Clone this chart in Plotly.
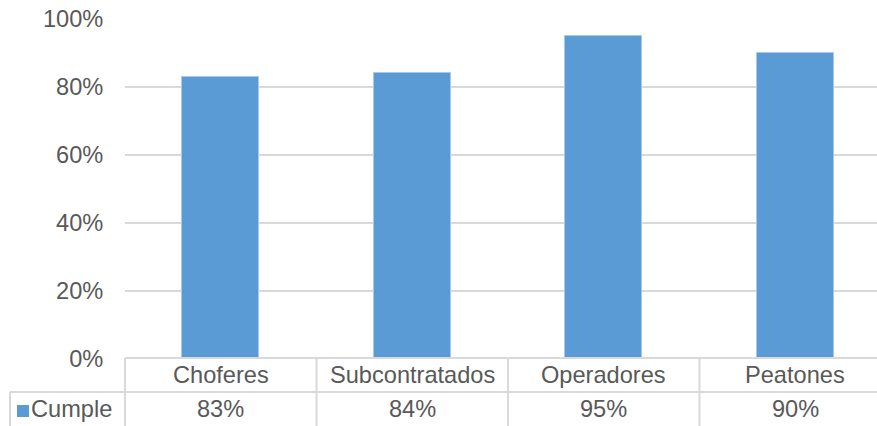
import plotly.graph_objects as go

# Data
categories = ["Choferes", "Subcontratados", "Operadores", "Peatones"]
cumple = [0.83, 0.84, 0.95, 0.90]
series_name = "Cumple"
y_ticks = [0, 0.2, 0.4, 0.6, 0.8, 1.0]
y_tick_labels = ["0%", "20%", "40%", "60%", "80%", "100%"]

W, H = 877, 426
ML, MR, MT, MB = 125, 0, 19, 67
PW, PH = W - ML - MR, H - MT - MB

BAR_COLOR = "#5B9BD5"
TEXT = "#595959"
GRID = "#D9D9D9"
FONT = "Liberation Sans, Arial, sans-serif"
FS = 23.6

# x range: one category slot is 191.5 px wide; right side runs past the canvas
slot = 191.5
x_range = [-0.5, -0.5 + PW / slot]


def px_x(p):
    return (p - ML) / PW


def px_y(p):
    return (H - MB - p) / PH


fig = go.Figure()
fig.add_trace(go.Bar(
    x=list(range(len(categories))),
    y=cumple,
    name=series_name,
    width=0.4,
    marker=dict(color=BAR_COLOR, line=dict(color="#A9C9EC", width=1)),
    showlegend=False,
    hoverinfo="skip",
))

shapes = []
line = dict(color=GRID, width=2)
# table borders
shapes.append(dict(type="line", xref="paper", yref="paper", x0=0, x1=1.05,
                   y0=px_y(358), y1=px_y(358), line=line))
shapes.append(dict(type="line", xref="paper", yref="paper", x0=px_x(10), x1=1.05,
                   y0=px_y(392), y1=px_y(392), line=line))
shapes.append(dict(type="line", xref="paper", yref="paper", x0=px_x(10), x1=px_x(10),
                   y0=px_y(392), y1=px_y(430), line=line))
for i in range(len(categories)):
    xb = (i - 0.5 - x_range[0]) / (x_range[1] - x_range[0])
    shapes.append(dict(type="line", xref="paper", yref="paper", x0=xb, x1=xb,
                       y0=px_y(358), y1=px_y(430), line=line))
# legend key
shapes.append(dict(type="rect", xref="paper", yref="paper",
                   x0=px_x(17), x1=px_x(29), y0=px_y(417), y1=px_y(405),
                   fillcolor=BAR_COLOR, line=dict(width=0)))

annotations = []
for i, (c, v) in enumerate(zip(categories, cumple)):
    annotations.append(dict(x=i, y=px_y(375), xref="x", yref="paper", text=c,
                            showarrow=False, xanchor="center", yanchor="middle",
                            font=dict(family=FONT, size=FS, color=TEXT)))
    annotations.append(dict(x=i, y=px_y(409), xref="x", yref="paper",
                            text=f"{round(v * 100)}%",
                            showarrow=False, xanchor="center", yanchor="middle",
                            font=dict(family=FONT, size=FS, color=TEXT)))
annotations.append(dict(x=px_x(29), y=px_y(409), xref="paper", yref="paper",
                        text=series_name, showarrow=False, xanchor="left",
                        yanchor="middle", font=dict(family=FONT, size=FS, color=TEXT)))

fig.update_layout(
    width=W, height=H,
    margin=dict(l=ML, r=MR, t=MT, b=MB, pad=0),
    paper_bgcolor="white", plot_bgcolor="white",
    bargap=0,
    shapes=shapes,
    annotations=annotations,
    xaxis=dict(range=x_range, showticklabels=False, showgrid=False,
               zeroline=False, showline=False, ticks=""),
    yaxis=dict(range=[0, 1], tickvals=y_ticks, ticktext=y_tick_labels,
               showgrid=True, gridcolor=GRID, gridwidth=1.5, zeroline=False,
               showline=False, ticks="outside", ticklen=16, tickcolor="white",
               tickfont=dict(family=FONT, size=FS, color=TEXT)),
)

fig.write_html("out.html", config={"displayModeBar": False})
